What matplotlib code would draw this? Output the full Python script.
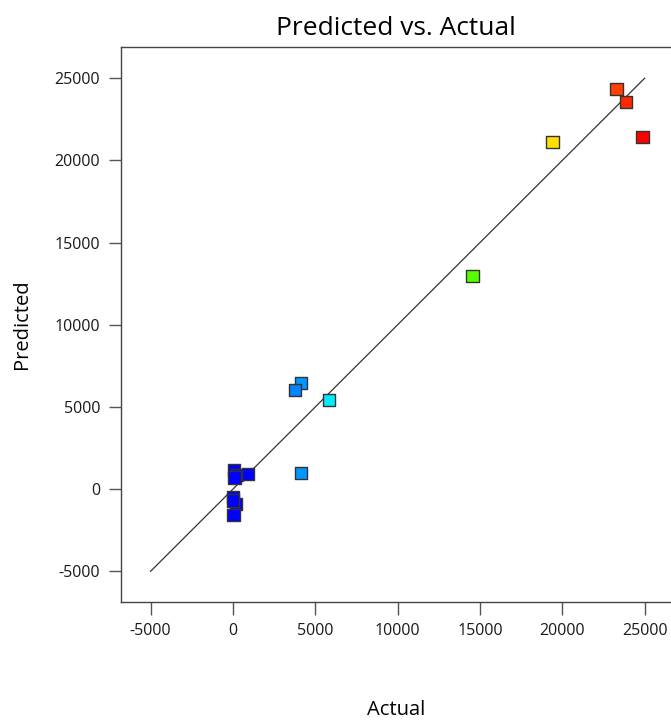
import matplotlib
matplotlib.use('Agg')
import matplotlib.pyplot as plt
from matplotlib.colors import LinearSegmentedColormap, Normalize

plt.rcParams['font.family'] = ['Open Sans', 'DejaVu Sans']

# actual / predicted values
actual = [23300, 23850, 24880, 19400, 14540, 5840, 4140, 3770, 4140,
          60, 240, 910, 100, 0, 180, 20, 0]
predicted = [24330, 23540, 21410, 21110, 12960, 5410, 6450, 6020, 970,
             1160, 850, 910, 700, -490, -910, -1580, -700]
line_ends = [-5000, 25000]

x_ticks = [-5000, 0, 5000, 10000, 15000, 20000, 25000]
y_ticks = [-5000, 0, 5000, 10000, 15000, 20000, 25000]

# blue -> cyan -> green -> yellow -> red, coloured by actual value
cmap = LinearSegmentedColormap.from_list(
    'de', [(0.0, '#0000ff'), (0.04, '#0000ff'), (0.25, '#00ffff'),
           (0.5, '#00ff00'), (0.75, '#ffff00'), (1.0, '#ff0000')])
norm = Normalize(vmin=0, vmax=max(actual))

fig = plt.figure(figsize=(6.71, 7.22), dpi=100)
ax = fig.add_axes([0.1803, 0.1662, 0.8197, 0.7687])

ax.plot(line_ends, line_ends, color='#333333', lw=0.9, zorder=1)
ax.scatter(actual, predicted, c=actual, cmap=cmap, norm=norm, marker='s',
           s=80, edgecolors='#333333', linewidths=1.0, zorder=2)

ax.set_xlim(-6800, 26600)
ax.set_ylim(-6870, 26900)
ax.set_xticks(x_ticks)
ax.set_yticks(y_ticks)
ax.set_xticklabels([str(t) for t in x_ticks])
ax.set_yticklabels([str(t) for t in y_ticks])

for side in ['left', 'bottom', 'top']:
    ax.spines[side].set_color('#444444')
    ax.spines[side].set_linewidth(1.0)
ax.spines['right'].set_visible(False)

ax.tick_params(axis='both', direction='out', length=9, width=1.0,
               color='#555555', labelsize=11.5, labelcolor='#1a1a1a', pad=6)

ax.set_title('Predicted vs. Actual', fontsize=19, pad=9)
ax.set_xlabel('Actual', fontsize=14.5, labelpad=44)
ax.set_ylabel('Predicted', fontsize=14.5, labelpad=16)

fig.savefig('out.png', dpi=100)
